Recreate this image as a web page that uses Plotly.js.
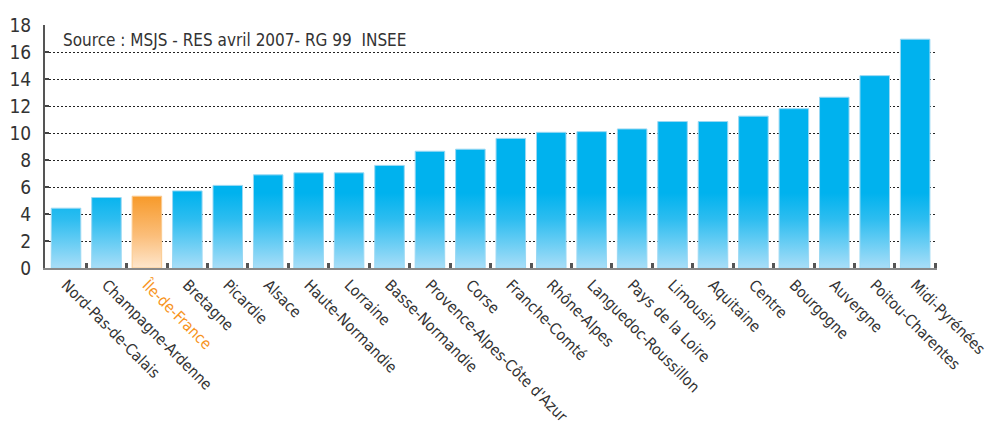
<!DOCTYPE html>
<html>
<head>
<meta charset="utf-8">
<script src="https://cdn.plot.ly/plotly-3.0.1.min.js"></script>
<style>
  html, body { margin: 0; padding: 0; background: #fff; }
  #chart { width: 987px; height: 426px; }
</style>
</head>
<body>
<div id="chart"></div>
<script>
// Regions, sorted by value
const regions = [
    'Nord-Pas-de-Calais', 'Champagne-Ardenne', 'Île-de-France', 'Bretagne', 'Picardie',
    'Alsace', 'Haute-Normandie', 'Lorraine', 'Basse-Normandie', 'Provence-Alpes-Côte d\'Azur',
    'Corse', 'Franche-Comté', 'Rhône-Alpes', 'Languedoc-Roussillon', 'Pays de la Loire',
    'Limousin', 'Aquitaine', 'Centre', 'Bourgogne', 'Auvergne', 'Poitou-Charentes', 'Midi-Pyrénées'
];
const values = [
    4.43, 5.22, 5.32, 5.71, 6.12,
    6.9, 7.05, 7.05, 7.6, 8.65,
    8.8, 9.6, 10.05, 10.1, 10.3,
    10.85, 10.85, 11.25, 11.8, 12.65, 14.25, 16.95
];
const highlight = 'Île-de-France';
const yTicks = [0, 2, 4, 6, 8, 10, 12, 14, 16, 18];
const sourceText = 'Source : MSJS - RES avril 2007- RG 99  INSEE';

const FONT = '"Liberation Sans Narrow", "DejaVu Sans Condensed", "Roboto Condensed", Arial, sans-serif';
const BLUE = '#00AEEF';
const ORANGE = '#F7941D';

const isHi = regions.map(r => r === highlight);

const trace = {
    type: 'bar',
    x: regions,
    y: values,
    width: 0.73,
    marker: {
        color: isHi.map(h => h ? ORANGE : BLUE),
        line: { color: isHi.map(h => h ? '#FBCB90' : '#9AD8F3'), width: 1 }
    },
    hoverinfo: 'x+y'
};

const layout = {
    width: 987,
    height: 426,
    margin: { l: 45, r: 50, t: 25, b: 158 },
    paper_bgcolor: '#fff',
    plot_bgcolor: '#fff',
    showlegend: false,
    bargap: 0.27,
    font: { family: FONT, color: '#333' },
    xaxis: {
        type: 'category',
        range: [-0.52, 21.54],
        tickvals: regions,
        ticktext: regions.map(r => r === highlight
            ? '<span style="color:' + ORANGE + '">' + r + '</span>' : r),
        tickangle: 45,
        tickfont: { size: 15.5, color: '#333', family: FONT },
        ticks: 'inside',
        tickson: 'boundaries',
        ticklen: 5,
        tickwidth: 3,
        tickcolor: '#555',
        showline: true,
        linecolor: '#888',
        linewidth: 2,
        showgrid: false,
        fixedrange: true
    },
    yaxis: {
        range: [0, 18],
        tickvals: yTicks,
        tickfont: { size: 19, color: '#333', family: FONT },
        ticks: 'inside',
        ticklen: 4,
        tickwidth: 2,
        tickcolor: '#444',
        showline: true,
        linecolor: '#555',
        linewidth: 2,
        showgrid: true,
        gridcolor: '#222',
        griddash: '2px,2px',
        gridwidth: 1,
        zeroline: false,
        ticklabelstandoff: 8,
        fixedrange: true
    },
    annotations: [{
        text: sourceText,
        xref: 'paper', yref: 'paper',
        x: 0.018, y: 0.94,
        xanchor: 'left', yanchor: 'middle',
        showarrow: false,
        font: { size: 17, color: '#333', family: FONT }
    }]
};

function addGradients(gd) {
    const svg = gd.querySelector('svg.main-svg');
    const ns = 'http://www.w3.org/2000/svg';
    let defs = svg.querySelector('defs');
    if (!defs) {
        defs = document.createElementNS(ns, 'defs');
        svg.insertBefore(defs, svg.firstChild);
    }
    const h = gd._fullLayout._size.h;

    const makeGrad = (id, attrs, stops) => {
        const g = document.createElementNS(ns, 'linearGradient');
        g.setAttribute('id', id);
        Object.keys(attrs).forEach(k => g.setAttribute(k, attrs[k]));
        stops.forEach(([off, col]) => {
            const s = document.createElementNS(ns, 'stop');
            s.setAttribute('offset', off);
            s.setAttribute('stop-color', col);
            g.appendChild(s);
        });
        defs.appendChild(g);
    };

    // blue: solid on top, fades near the baseline (same for every bar)
    makeGrad('gradBlue',
        { gradientUnits: 'userSpaceOnUse', x1: 0, x2: 0, y1: h - 75, y2: h },
        [[0, '#00B2EE'], [0.35, '#2DBDF0'], [1, '#A8DEF8']]);
    // orange: fades along the whole bar
    makeGrad('gradOrange',
        { x1: 0, x2: 0, y1: 0, y2: 1 },
        [[0, '#F79A2A'], [0.55, '#FBBE7A'], [1, '#FEE6CC']]);

    const paths = gd.querySelectorAll('.barlayer .trace .point path');
    paths.forEach((p, i) => {
        p.style.fill = isHi[i] ? 'url(#gradOrange)' : 'url(#gradBlue)';
    });
}

Plotly.newPlot('chart', [trace], layout, { displayModeBar: false, staticPlot: true })
    .then(addGradients);
</script>
</body>
</html>
